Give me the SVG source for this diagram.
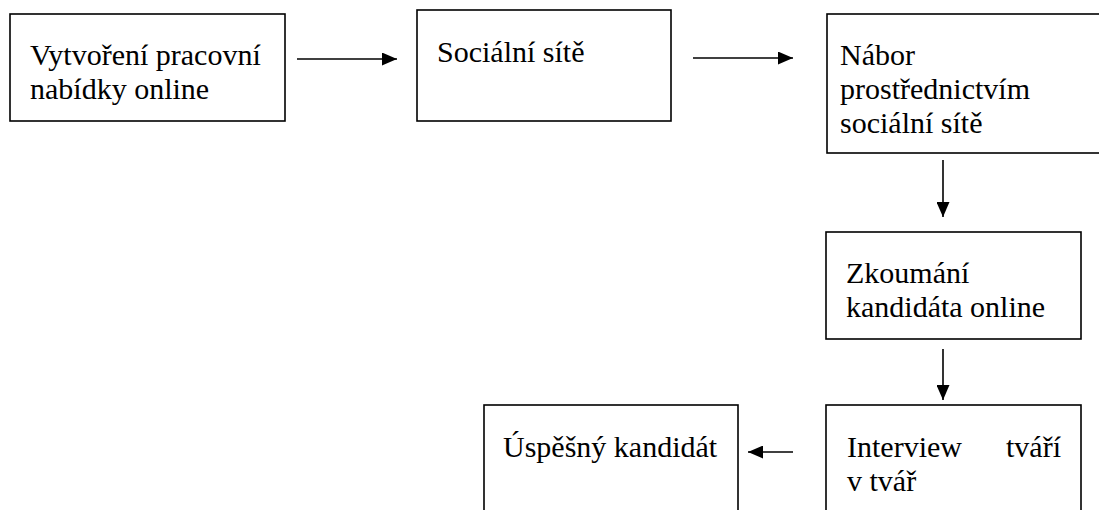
<svg xmlns="http://www.w3.org/2000/svg" width="1099" height="510" viewBox="0 0 1099 510">
<defs>
<style>
.box{fill:#fff;stroke:#000;stroke-width:1.6}
.t{font-family:'Liberation Serif','DejaVu Serif',serif;font-size:30px;fill:#000}
.c{stroke:#000;stroke-width:1.6;fill:none}
</style>
<marker id="ah" markerWidth="15" markerHeight="13" refX="15" refY="6.5" orient="auto" markerUnits="userSpaceOnUse">
<path d="M0,0 L15,6.5 L0,13 Z" fill="#000"/>
</marker>
</defs>
<rect width="1099" height="510" fill="#fff"/>
<g font-family="Liberation Serif, DejaVu Serif, serif" font-size="30">
<g id="n1">
<rect class="box" x="10" y="14" width="275" height="107"/>
<text class="t" x="30" y="65">Vytvoření pracovní</text>
<text class="t" x="30" y="99">nabídky online</text>
</g>
<g id="n2">
<rect class="box" x="417" y="10" width="254" height="111"/>
<text class="t" x="437" y="62">Sociální sítě</text>
</g>
<g id="n3">
<rect class="box" x="827" y="14" width="290" height="139"/>
<text class="t" x="840" y="65">Nábor</text>
<text class="t" x="840" y="99">prostřednictvím</text>
<text class="t" x="840" y="133">sociální sítě</text>
</g>
<g id="n4">
<rect class="box" x="826" y="232" width="255" height="107"/>
<text class="t" x="846" y="283">Zkoumání</text>
<text class="t" x="846" y="317">kandidáta online</text>
</g>
<g id="n5">
<rect class="box" x="826" y="405" width="255" height="130"/>
<text class="t" x="847" y="457">Interview<tspan x="1061" text-anchor="end">tváří</tspan></text>
<text class="t" x="847" y="491">v tvář</text>
</g>
<g id="n6">
<rect class="box" x="484" y="405" width="254" height="130"/>
<text class="t" x="503" y="457">Úspěšný kandidát</text>
</g>
</g>
<g id="connectors">
<line class="c" x1="297" y1="59" x2="397" y2="59" marker-end="url(#ah)"/>
<line class="c" x1="693" y1="58" x2="793" y2="58" marker-end="url(#ah)"/>
<line class="c" x1="943" y1="160" x2="943" y2="217" marker-end="url(#ah)"/>
<line class="c" x1="943" y1="349" x2="943" y2="400" marker-end="url(#ah)"/>
<line class="c" x1="793" y1="452" x2="748" y2="452" marker-end="url(#ah)"/>
</g>
</svg>
